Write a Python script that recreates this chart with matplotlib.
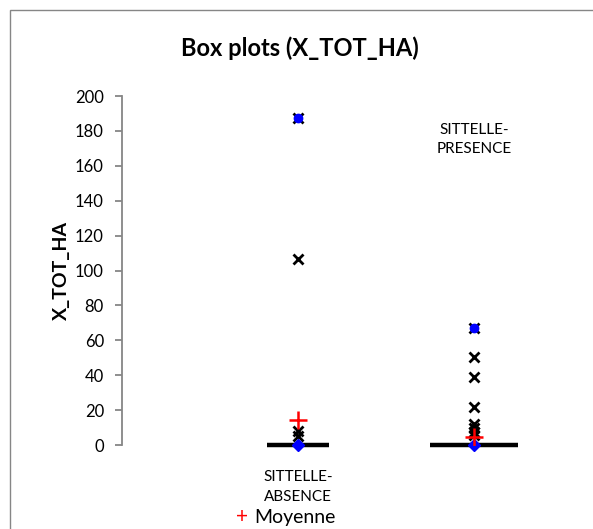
import matplotlib
matplotlib.use("Agg")
import matplotlib.pyplot as plt
from matplotlib.patches import Rectangle

plt.rcParams['font.family'] = ['Lato', 'DejaVu Sans']

categories = ["SITTELLE-\nABSENCE", "SITTELLE-\nPRESENCE"]
minimums = [0, 0]
maximums = [187.5, 67.3]
medians = [0, 0]
means = [14.3, 4.4]
outliers = [
    [187.5, 106.5, 8.0, 5.2],
    [67.3, 50.3, 38.8, 21.6, 12.0, 9.5, 7.6, 5.7],
]
yticks = [0, 20, 40, 60, 80, 100, 120, 140, 160, 180, 200]

fig = plt.figure(figsize=(5.93, 5.29), dpi=100)
fig.patches.append(Rectangle((10/593, -0.1), 1.2, (529-10)/529 + 0.1,
                             transform=fig.transFigure, fill=False,
                             edgecolor='#868686', linewidth=1.0))

ax = fig.add_axes([122/593, (529-445)/529, 449/593, 349/529])
ax.set_xlim(0, 2.55)
ax.set_ylim(0, 200)

positions = [1, 2]
halfw = [0.175, 0.25]
for i, p in enumerate(positions):
    ax.hlines(medians[i], p - halfw[i], p + halfw[i], color='black', linewidth=3.2,
              zorder=2, clip_on=False)
    ax.plot([p] * len(outliers[i]), outliers[i], linestyle='none', marker='x',
            color='black', markersize=7, markeredgewidth=2, zorder=3)
    ax.plot([p], [maximums[i]], linestyle='none', marker='o', color='#0000FF',
            markersize=6, zorder=4)
    ax.plot([p], [minimums[i]], linestyle='none', marker='D', color='#0000FF',
            markersize=6.5, zorder=4, clip_on=False)
    ax.plot([p], [means[i]], linestyle='none', marker='+', color='#FF0000',
            markersize=13, markeredgewidth=1.8, zorder=5)

for s in ['top', 'right', 'bottom']:
    ax.spines[s].set_visible(False)
ax.spines['left'].set_color('#868686')
ax.spines['left'].set_linewidth(1.3)
ax.set_xticks([])
ax.set_yticks(yticks)
ax.tick_params(axis='y', direction='out', length=5, color='#868686', width=1.3,
               labelsize=12, pad=8)
ax.set_ylabel("X_TOT_HA", fontsize=14, fontweight='bold', labelpad=4)

fig.text(300/593, 1 - 48/529, "Box plots (X_TOT_HA)", ha='center', va='center',
         fontsize=17, fontweight='bold')

ax.text(positions[0], -24, categories[0], ha='center', va='center', fontsize=11,
        linespacing=1.5)
ax.text(positions[1], 175, categories[1], ha='center', va='center', fontsize=11,
        linespacing=1.5)

fig.text(242/593, 1 - 517/529, "+", color='#FF0000', ha='center', va='center',
         fontsize=15)
fig.text(254/593, 1 - 517/529, "Moyenne", ha='left', va='center', fontsize=14)

fig.savefig("out.png", dpi=100)
